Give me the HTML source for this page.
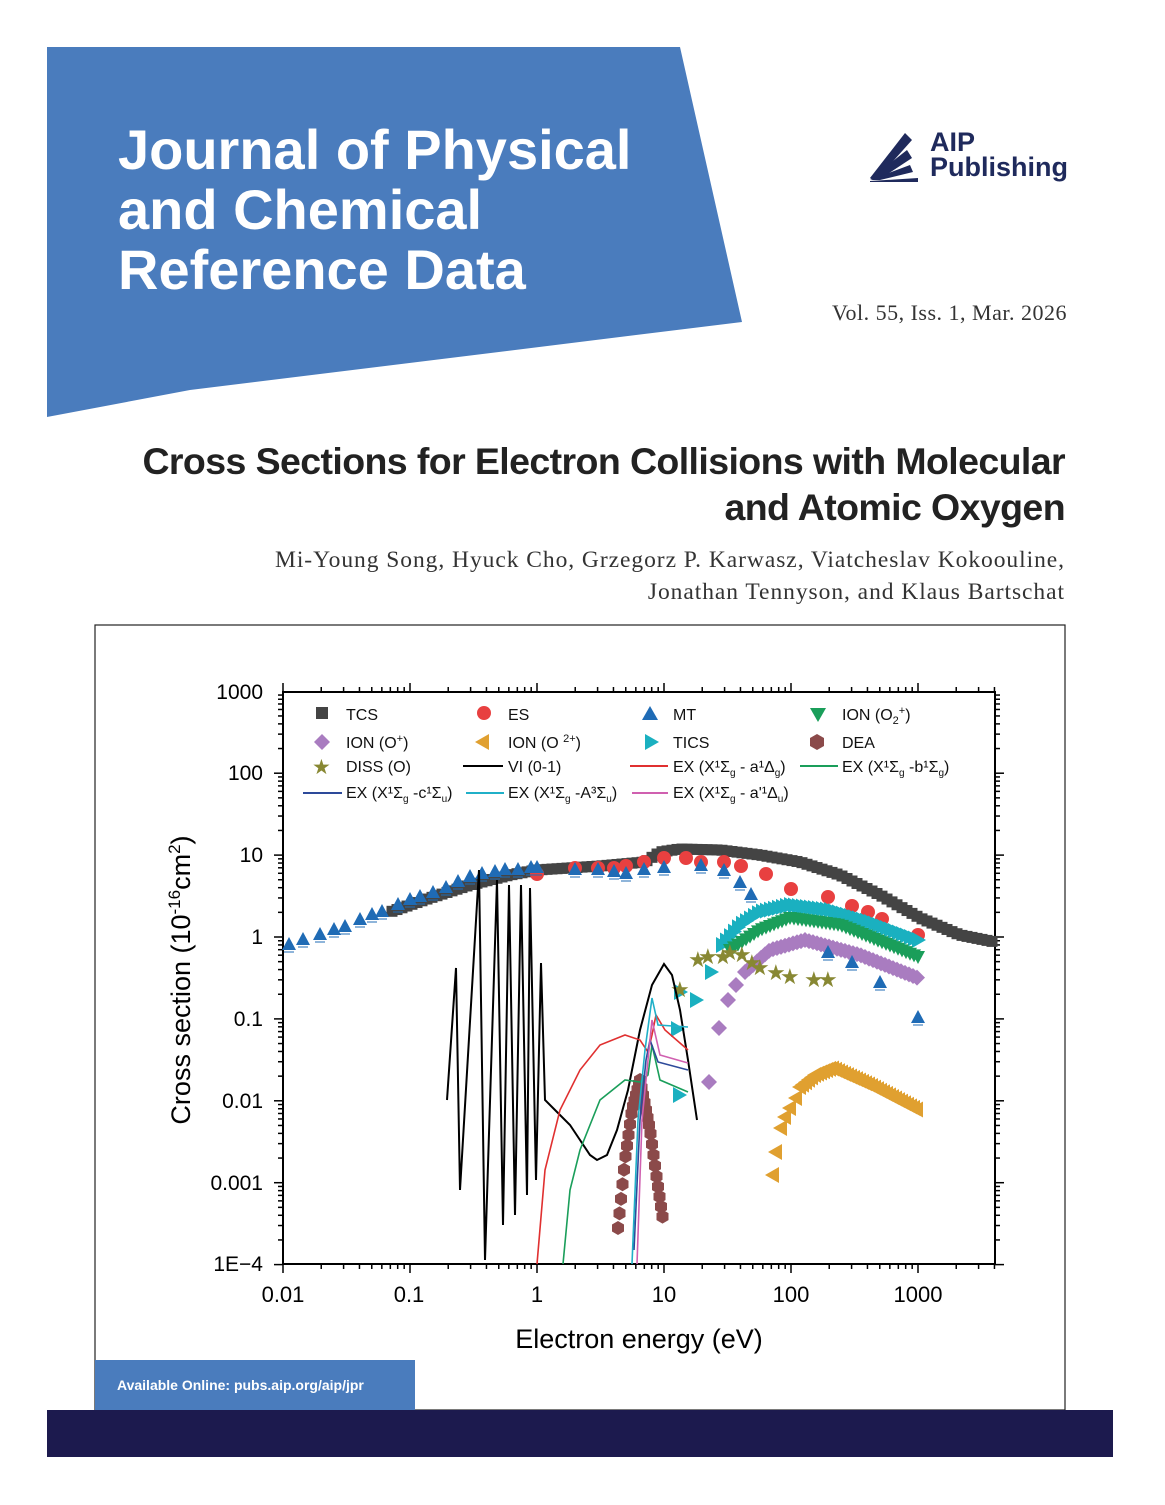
<!DOCTYPE html>
<html><head><meta charset="utf-8"><style>
body{margin:0;background:#fff;}
.p{position:relative;width:1165px;height:1505px;overflow:hidden;font-family:"Liberation Sans",sans-serif;}
.a{position:absolute;}
</style></head><body><div class="p">
<svg class="a" style="left:0;top:0" width="1165" height="1505">
<polygon points="47,47 680,47 742,322 190,390 47,417" fill="#4a7cbd"/>
<rect x="95" y="625" width="970" height="785" fill="none" stroke="#222" stroke-width="1.2"/>
<rect x="47" y="1410" width="1066" height="47" fill="#1c1a4e"/>
<rect x="95" y="1360" width="320" height="50" fill="#4a7cbd"/>
<g fill="#1f2a5c">
<polygon points="870,178 905,133 912,140 878,178"/>
<polygon points="870,179 907,150 912,158 880,179"/>
<polygon points="870,180 910,165 913,172 880,180"/>
<polygon points="870,181 918,178 918,182 870,182"/>
</g>
</svg>
<div class="a" style="left:118px;top:120px;color:#fff;font-weight:bold;font-size:56px;line-height:60px">Journal of Physical<br>and Chemical<br>Reference Data</div>
<div class="a" style="left:930px;top:130px;color:#1f2a5c;font-weight:bold;font-size:27px;line-height:25px">AIP<br>Publishing</div>
<div class="a" style="right:98px;top:300px;font-family:'Liberation Serif',serif;font-size:22px;color:#333;letter-spacing:0.5px">Vol. 55, Iss. 1, Mar. 2026</div>
<div class="a" style="right:100px;top:438px;text-align:right;font-weight:bold;font-size:37.5px;line-height:46px;color:#222;letter-spacing:-0.6px;white-space:nowrap">Cross Sections for Electron Collisions with Molecular<br>and Atomic Oxygen</div>
<div class="a" style="right:100px;top:544px;text-align:right;font-family:'Liberation Serif',serif;font-size:23.5px;line-height:32px;color:#333;white-space:nowrap;letter-spacing:0.95px">Mi-Young Song, Hyuck Cho, Grzegorz P. Karwasz, Viatcheslav Kokoouline,<br>Jonathan Tennyson, and Klaus Bartschat</div>
<div class="a" style="left:117px;top:1377px;color:#fff;font-weight:bold;font-size:14px">Available Online: pubs.aip.org/aip/jpr</div>
<svg id="c" class="a" style="left:0;top:0" width="1165" height="1505" font-family="Liberation Sans, sans-serif">
<g font-size="21" text-anchor="end">
<text x="263" y="699">1000</text><text x="263" y="780">100</text><text x="263" y="862">10</text><text x="263" y="944">1</text><text x="263" y="1026">0.1</text><text x="263" y="1108">0.01</text><text x="263" y="1190">0.001</text><text x="263" y="1271">1E−4</text>
</g>
<g font-size="22" text-anchor="middle">
<text x="283" y="1302">0.01</text><text x="409" y="1302">0.1</text><text x="537" y="1302">1</text><text x="664" y="1302">10</text><text x="791" y="1302">100</text><text x="918" y="1302">1000</text>
<text x="639" y="1348" font-size="27">Electron energy (eV)</text>
<text transform="translate(190,980) rotate(-90)" font-size="27">Cross section (10<tspan dy="-10" font-size="17">-16</tspan><tspan dy="10">cm</tspan><tspan dy="-10" font-size="17">2</tspan><tspan dy="10">)</tspan></text>
</g>
<g font-size="16" fill="#111">
<text x="346" y="720">TCS</text><text x="508" y="720">ES</text><text x="673" y="720">MT</text><text x="842" y="720">ION (O<tspan font-size="11" dy="4">2</tspan><tspan font-size="11" dy="-10">+</tspan><tspan dy="6">)</tspan></text>
<text x="346" y="748">ION (O<tspan font-size="11" dy="-6">+</tspan><tspan dy="6">)</tspan></text><text x="508" y="748">ION (O <tspan font-size="11" dy="-6">2+</tspan><tspan dy="6">)</tspan></text><text x="673" y="748">TICS</text><text x="842" y="748">DEA</text>
<text x="346" y="772">DISS (O)</text><text x="508" y="772">VI (0-1)</text><text x="673" y="772">EX (X¹Σ<tspan font-size="10" dy="4">g</tspan><tspan dy="-4"> - a¹Δ</tspan><tspan font-size="10" dy="4">g</tspan><tspan dy="-4">)</tspan></text><text x="842" y="772">EX (X¹Σ<tspan font-size="10" dy="4">g</tspan><tspan dy="-4"> -b¹Σ</tspan><tspan font-size="10" dy="4">g</tspan><tspan dy="-4">)</tspan></text>
<text x="346" y="798">EX (X¹Σ<tspan font-size="10" dy="4">g</tspan><tspan dy="-4"> -c¹Σ</tspan><tspan font-size="10" dy="4">u</tspan><tspan dy="-4">)</tspan></text><text x="508" y="798">EX (X¹Σ<tspan font-size="10" dy="4">g</tspan><tspan dy="-4"> -A³Σ</tspan><tspan font-size="10" dy="4">u</tspan><tspan dy="-4">)</tspan></text><text x="673" y="798">EX (X¹Σ<tspan font-size="10" dy="4">g</tspan><tspan dy="-4"> - a'¹Δ</tspan><tspan font-size="10" dy="4">u</tspan><tspan dy="-4">)</tspan></text>
<text x="312" y="774" fill="#888833" font-size="21">★</text>
</g>
<g stroke-width="2" fill="none">
<line x1="463" y1="766" x2="503" y2="766" stroke="#000"/>
<line x1="630" y1="766" x2="668" y2="766" stroke="#e03030"/>
<line x1="800" y1="766" x2="838" y2="766" stroke="#1a9e5a"/>
<line x1="303" y1="793" x2="342" y2="793" stroke="#2d4a9a"/>
<line x1="466" y1="793" x2="504" y2="793" stroke="#20b0c8"/>
<line x1="632" y1="793" x2="668" y2="793" stroke="#d060b0"/>
</g>
<rect x="316" y="707" width="12" height="12" fill="#444"/>
<circle cx="484" cy="713" r="7" fill="#e84040"/>
<polygon points="650,706 658,720 642,720" fill="#1f6bb5"/>
<polygon points="810,708 826,708 818,722" fill="#1a9e5a"/>
<polygon points="322,734 330,742 322,750 314,742" fill="#a97cc0"/>
<polygon points="475,742 489,734 489,750" fill="#e0a030"/>
<polygon points="645,734 659,742 645,750" fill="#1ab0c0"/>
<polygon points="817,734 824,738 824,746 817,750 810,746 810,738" fill="#8b4a4a"/>
<g id="g"></g>
</svg>
<script>
var g=document.getElementById('g'),h='';
function X(e){return 537+127*Math.log10(e);}
function Y(v){return 937-81.9*Math.log10(v);}
h+='<rect x="283" y="692" width="712" height="572" fill="none" stroke="#000" stroke-width="2"/>';
for(var d=-2;d<=3;d++)for(var k=1;k<10;k++){var e=Math.pow(10,d)*k,x=X(e);if(x>995)break;var L=k==1?9:5;
h+='<line x1="'+x+'" y1="1264" x2="'+x+'" y2="'+(1264+L)+'" stroke="#000" stroke-width="1.5"/><line x1="'+x+'" y1="692" x2="'+x+'" y2="'+(692-L)+'" stroke="#000" stroke-width="1.5"/>';}
for(var d=-4;d<=3;d++)for(var k=1;k<10;k++){var v=Math.pow(10,d)*k,y=Y(v);if(y<692)break;var L=k==1?9:5;
h+='<line x1="283" y1="'+y+'" x2="'+(283-L)+'" y2="'+y+'" stroke="#000" stroke-width="1.5"/><line x1="995" y1="'+y+'" x2="'+(995+L)+'" y2="'+y+'" stroke="#000" stroke-width="1.5"/>';}
function interp(pts,x){for(var i=0;i<pts.length-1;i++){if(x>=pts[i][0]&&x<=pts[i+1][0]){var t=(x-pts[i][0])/(pts[i+1][0]-pts[i][0]);return pts[i][1]+t*(pts[i+1][1]-pts[i][1]);}}return null;}
function sq(x,y,c){return '<rect x="'+(x-5.5)+'" y="'+(y-5.5)+'" width="11" height="11" fill="'+c+'"/>';}
function tri(x,y,c){return '<polygon points="'+x+','+(y-8)+' '+(x+7)+','+(y+5)+' '+(x-7)+','+(y+5)+'" fill="'+c+'"/><line x1="'+(x-5)+'" y1="'+(y+7)+'" x2="'+(x+5)+'" y2="'+(y+7)+'" stroke="'+c+'"/>';}
function dtri(x,y,c){return '<polygon points="'+(x-7)+','+(y-6)+' '+(x+7)+','+(y-6)+' '+x+','+(y+7)+'" fill="'+c+'"/>';}
function rtri(x,y,c){return '<polygon points="'+(x-6)+','+(y-8)+' '+(x+8)+','+y+' '+(x-6)+','+(y+8)+'" fill="'+c+'"/>';}
function ltri(x,y,c){return '<polygon points="'+(x+6)+','+(y-8)+' '+(x-8)+','+y+' '+(x+6)+','+(y+8)+'" fill="'+c+'"/>';}
function dia(x,y,c){return '<polygon points="'+x+','+(y-8)+' '+(x+8)+','+y+' '+x+','+(y+8)+' '+(x-8)+','+y+'" fill="'+c+'"/>';}
function hex(x,y,c){return '<polygon points="'+x+','+(y-7)+' '+(x+6)+','+(y-3.5)+' '+(x+6)+','+(y+3.5)+' '+x+','+(y+7)+' '+(x-6)+','+(y+3.5)+' '+(x-6)+','+(y-3.5)+'" fill="'+c+'"/>';}
function circ(x,y,c){return '<circle cx="'+x+'" cy="'+y+'" r="7" fill="'+c+'"/>';}
function star(x,y,c){return '<text x="'+(x-10)+'" y="'+(y+7)+'" font-size="22" fill="'+c+'">★</text>';}
var tcs=[[390,912],[430,898],[470,885],[510,875],[537,870],[600,866],[645,862],[660,852],[680,849],[720,850],[760,855],[800,862],[840,875],[880,895],[920,918],[960,935],[995,942]];
for(var x=392;x<=995;x+=5)h+=sq(x,interp(tcs,x),'#444');
[[537,874],[575,868],[598,868],[614,868],[626,866],[644,862],[664,858],[686,858],[701,862],[724,862],[741,866],[766,874],[791,889],[828,897],[852,906],[868,912],[882,919],[918,935]].forEach(function(p){h+=circ(p[0],p[1],'#e84040');});
var tics=[[722,945],[740,925],[760,912],[790,905],[830,910],[870,922],[918,940]];
for(var x=722;x<=918;x+=4)h+=rtri(x,interp(tics,x),'#1ab0c0');
[[680,992],[696,1000],[711,972],[677,1029],[679,1095]].forEach(function(p){h+=rtri(p[0],p[1],'#1ab0c0');});
var o2=[[730,950],[760,930],[790,918],[840,925],[918,957]];
for(var x=730;x<=918;x+=4)h+=dtri(x,interp(o2,x),'#1a9e5a');
var op=[[745,972],[770,950],[805,940],[860,955],[918,978]];
for(var x=745;x<=918;x+=4)h+=dia(x,interp(op,x),'#a97cc0');
[[709,1082],[719,1028],[728,1000],[736,985]].forEach(function(p){h+=dia(p[0],p[1],'#a97cc0');});
[[680,990],[698,960],[708,957],[723,957],[730,953],[742,955],[752,963],[760,968],[776,973],[790,977],[814,980],[828,980]].forEach(function(p){h+=star(p[0],p[1],'#888833');});
[[773,1175],[776,1152],[781,1128],[785,1117],[790,1108],[796,1098]].forEach(function(p){h+=ltri(p[0],p[1],'#e0a030');});
var o3=[[800,1087],[815,1075],[832,1068],[870,1085],[918,1110]];
for(var x=800;x<=918;x+=3)h+=ltri(x,interp(o3,x),'#e0a030');
var deaL=[[618,1228],[625,1160],[632,1110],[640,1080]],deaR=[[640,1080],[650,1130],[657,1180],[663,1220]];
for(var x=618;x<=640;x+=1.5)h+=hex(x,interp(deaL,x),'#8b4a4a');
for(var x=640;x<=663;x+=1.5)h+=hex(x,interp(deaR,x),'#8b4a4a');
[[289,945],[303,940],[320,935],[334,930],[345,927],[360,920],[372,915],[382,912],[398,905],[410,900],[420,897],[433,893],[446,888],[458,882],[470,877],[482,874],[495,872],[505,870],[518,870],[531,868],[537,868],[575,870],[598,870],[614,872],[626,874],[644,870],[664,868],[701,866],[724,871],[740,883],[751,895],[828,953],[852,963],[880,983],[918,1018]].forEach(function(p){h+=tri(p[0],p[1],'#1f6bb5');});
function pl(pts,c,w){h+='<polyline fill="none" stroke="'+c+'" stroke-width="'+w+'" points="'+pts.map(function(p){return p.join(',')}).join(' ')+'"/>';}
pl([[447,1100],[456,968],[460,1190],[479,870],[485,1260],[497,880],[503,1225],[509,885],[515,1215],[521,885],[527,1195],[530,888],[536,1180],[541,963],[545,1100],[555,1110],[570,1125],[580,1140],[590,1155],[597,1160],[607,1155],[617,1130],[628,1090],[640,1030],[652,985],[664,964],[672,975],[680,1010],[688,1060],[697,1120]],'#000',2);
pl([[537,1264],[545,1170],[560,1110],[580,1070],[600,1045],[625,1035],[640,1040],[648,1052],[652,1035],[656,1015],[665,1030],[688,1050]],'#e03030',1.6);
pl([[563,1264],[570,1190],[580,1150],[600,1100],[625,1080],[640,1082],[648,1075],[652,1045],[660,1080],[688,1092]],'#1a9e5a',1.6);
pl([[634,1250],[640,1120],[646,1060],[650,1040],[658,1062],[688,1070]],'#2d4a9a',1.6);
pl([[637,1264],[642,1120],[648,1060],[652,1020],[660,1055],[688,1063]],'#d060b0',1.6);
pl([[632,1264],[638,1120],[645,1050],[652,998],[658,1025],[688,1027]],'#20b0c8',1.6);
g.innerHTML=h;
</script>
</div></body></html>
